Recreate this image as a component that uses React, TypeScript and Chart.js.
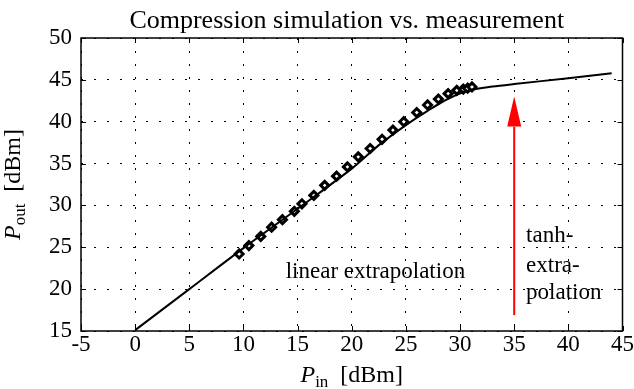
import React, { useEffect, useRef } from 'react';
import { Chart, registerables } from 'chart.js';
Chart.register(...registerables);

const simIn = [0, 5, 10, 15, 20, 22.5, 25, 27, 29, 31, 33, 35, 40, 44];
const simOut = [15.1, 20.0, 24.9, 29.6, 34.4, 37.2, 39.6, 41.3, 42.8, 43.8, 44.2, 44.5, 45.2, 45.8];
const measIn = [9.6, 10.5, 11.6, 12.6, 13.6, 14.7, 15.4, 16.5, 17.5, 18.6, 19.6, 20.6, 21.7, 22.8, 23.8, 24.8, 26.0, 27.0, 28.0, 28.9, 29.7, 30.3, 30.7, 31.1];
const measOut = [24.2, 25.2, 26.3, 27.4, 28.3, 29.3, 30.2, 31.2, 32.4, 33.5, 34.6, 35.8, 36.8, 37.9, 39.0, 40.0, 41.1, 42.0, 42.7, 43.35, 43.75, 43.9, 44.0, 44.15];
const xRange = [-5, 45];
const yRange = [15, 50];
const tickStep = 5;
const arrowX = 35;
const arrowFrom = 16.9;
const arrowTo = 43.0;
const titleText = 'Compression simulation vs. measurement';
const linearLabel = { text: 'linear extrapolation', x: 13.9, y: 22.1 };
const tanhLabel = { lines: ['tanh-', 'extra-', 'polation'], x: 36.1, y: [26.4, 22.8, 19.5] };

const FONT = '"Liberation Serif", "Times New Roman", serif';

type Part = { t: string; italic?: boolean; sub?: boolean };

function drawRich(ctx: CanvasRenderingContext2D, parts: Part[], cx: number, cy: number) {
  const big = 24, small = 17;
  const widths = parts.map((p) => {
    ctx.font = `${p.italic ? 'italic ' : ''}${p.sub ? small : big}px ${FONT}`;
    return ctx.measureText(p.t).width;
  });
  const total = widths.reduce((a, b) => a + b, 0);
  let x = cx - total / 2;
  ctx.textAlign = 'left';
  ctx.textBaseline = 'alphabetic';
  parts.forEach((p, i) => {
    ctx.font = `${p.italic ? 'italic ' : ''}${p.sub ? small : big}px ${FONT}`;
    ctx.fillText(p.t, x, cy + 8 + (p.sub ? 5 : 0));
    x += widths[i];
  });
}

const decorPlugin = {
  id: 'decor',
  afterDraw(chart: any) {
    const { ctx, chartArea: a, scales } = chart;
    const xs = scales.x, ys = scales.y;
    ctx.save();
    ctx.fillStyle = '#000';
    ctx.strokeStyle = '#000';
    ctx.setLineDash([]);
    // inward ticks
    ctx.lineWidth = 1;
    ctx.beginPath();
    for (let v = xRange[0]; v <= xRange[1]; v += tickStep) {
      const px = Math.round(xs.getPixelForValue(v)) + 0.5;
      ctx.moveTo(px, a.bottom); ctx.lineTo(px, a.bottom - 5);
      ctx.moveTo(px, a.top); ctx.lineTo(px, a.top + 5);
    }
    for (let v = yRange[0]; v <= yRange[1]; v += tickStep) {
      const py = Math.round(ys.getPixelForValue(v)) + 0.5;
      ctx.moveTo(a.left, py); ctx.lineTo(a.left + 5, py);
      ctx.moveTo(a.right, py); ctx.lineTo(a.right - 5, py);
    }
    ctx.stroke();
    // box
    ctx.lineWidth = 1.5;
    ctx.strokeRect(a.left, a.top, a.right - a.left, a.bottom - a.top);

    // arrow
    const ax = xs.getPixelForValue(arrowX);
    const y0 = ys.getPixelForValue(arrowFrom);
    const y1 = ys.getPixelForValue(arrowTo);
    const headLen = 30, headW = 7;
    ctx.strokeStyle = '#ff0000';
    ctx.fillStyle = '#ff0000';
    ctx.lineWidth = 2;
    ctx.beginPath();
    ctx.moveTo(ax, y0);
    ctx.lineTo(ax, y1 + headLen);
    ctx.stroke();
    ctx.beginPath();
    ctx.moveTo(ax, y1);
    ctx.lineTo(ax - headW, y1 + headLen);
    ctx.lineTo(ax + headW, y1 + headLen);
    ctx.closePath();
    ctx.fill();

    // annotations
    ctx.fillStyle = '#000';
    ctx.font = `23px ${FONT}`;
    ctx.textBaseline = 'middle';
    ctx.textAlign = 'left';
    ctx.fillText(linearLabel.text, xs.getPixelForValue(linearLabel.x), ys.getPixelForValue(linearLabel.y));
    tanhLabel.lines.forEach((l, i) => {
      ctx.fillText(l, xs.getPixelForValue(tanhLabel.x), ys.getPixelForValue(tanhLabel.y[i]));
    });

    // title
    const cx = (a.left + a.right) / 2;
    ctx.font = `26px ${FONT}`;
    ctx.textAlign = 'center';
    ctx.textBaseline = 'alphabetic';
    ctx.fillText(titleText, cx - 5, 28);

    // x axis title
    drawRich(ctx, [{ t: 'P', italic: true }, { t: 'in', sub: true }, { t: '  [dBm]' }], cx, 374);

    // y axis title
    ctx.save();
    ctx.translate(20, (a.top + a.bottom) / 2);
    ctx.rotate(-Math.PI / 2);
    drawRich(ctx, [{ t: 'P', italic: true }, { t: 'out', sub: true }, { t: '  [dBm]' }], 0, -8);
    ctx.restore();
    ctx.restore();
  },
};

export default function App() {
  const ref = useRef<HTMLCanvasElement>(null);
  useEffect(() => {
    document.body.style.margin = '0';
    const chart = new Chart(ref.current!, {
      type: 'scatter',
      data: {
        datasets: [
          {
            type: 'line',
            label: 'simulation',
            data: simIn.map((x, i) => ({ x, y: simOut[i] })),
            borderColor: '#000',
            borderWidth: 2,
            pointRadius: 0,
            tension: 0.3,
            fill: false,
          } as any,
          {
            label: 'measurement',
            data: measIn.map((x, i) => ({ x, y: measOut[i] })),
            pointStyle: 'rectRot',
            pointRadius: 4,
            borderColor: '#000',
            backgroundColor: '#fff',
            borderWidth: 3,
          },
        ],
      },
      options: {
        animation: false,
        responsive: false,
        maintainAspectRatio: false,
        layout: { padding: { left: 0, top: 38, right: 9, bottom: 0 } },
        plugins: { legend: { display: false }, title: { display: false }, tooltip: { enabled: false } },
        scales: {
          x: {
            type: 'linear',
            min: xRange[0],
            max: xRange[1],
            ticks: { stepSize: tickStep, color: '#000', font: { family: FONT, size: 23 }, padding: 0, maxRotation: 0 },
            grid: { color: '#000', lineWidth: 1, drawTicks: false },
            border: { display: false, dash: [2, 11] },
            afterFit: (s: any) => { s.height = 58; },
          },
          y: {
            type: 'linear',
            min: yRange[0],
            max: yRange[1],
            ticks: { stepSize: tickStep, color: '#000', font: { family: FONT, size: 23 }, padding: 9 },
            grid: { color: '#000', lineWidth: 1, drawTicks: false },
            border: { display: false, dash: [2, 11] },
            afterFit: (s: any) => { s.width = 81; },
          },
        },
      },
      plugins: [decorPlugin],
    });
    return () => chart.destroy();
  }, []);
  return (
    <div style={{ position: 'absolute', left: 0, top: 0, width: 634, height: 389, background: '#fff' }}>
      <canvas ref={ref} width={634} height={389} />
    </div>
  );
}
